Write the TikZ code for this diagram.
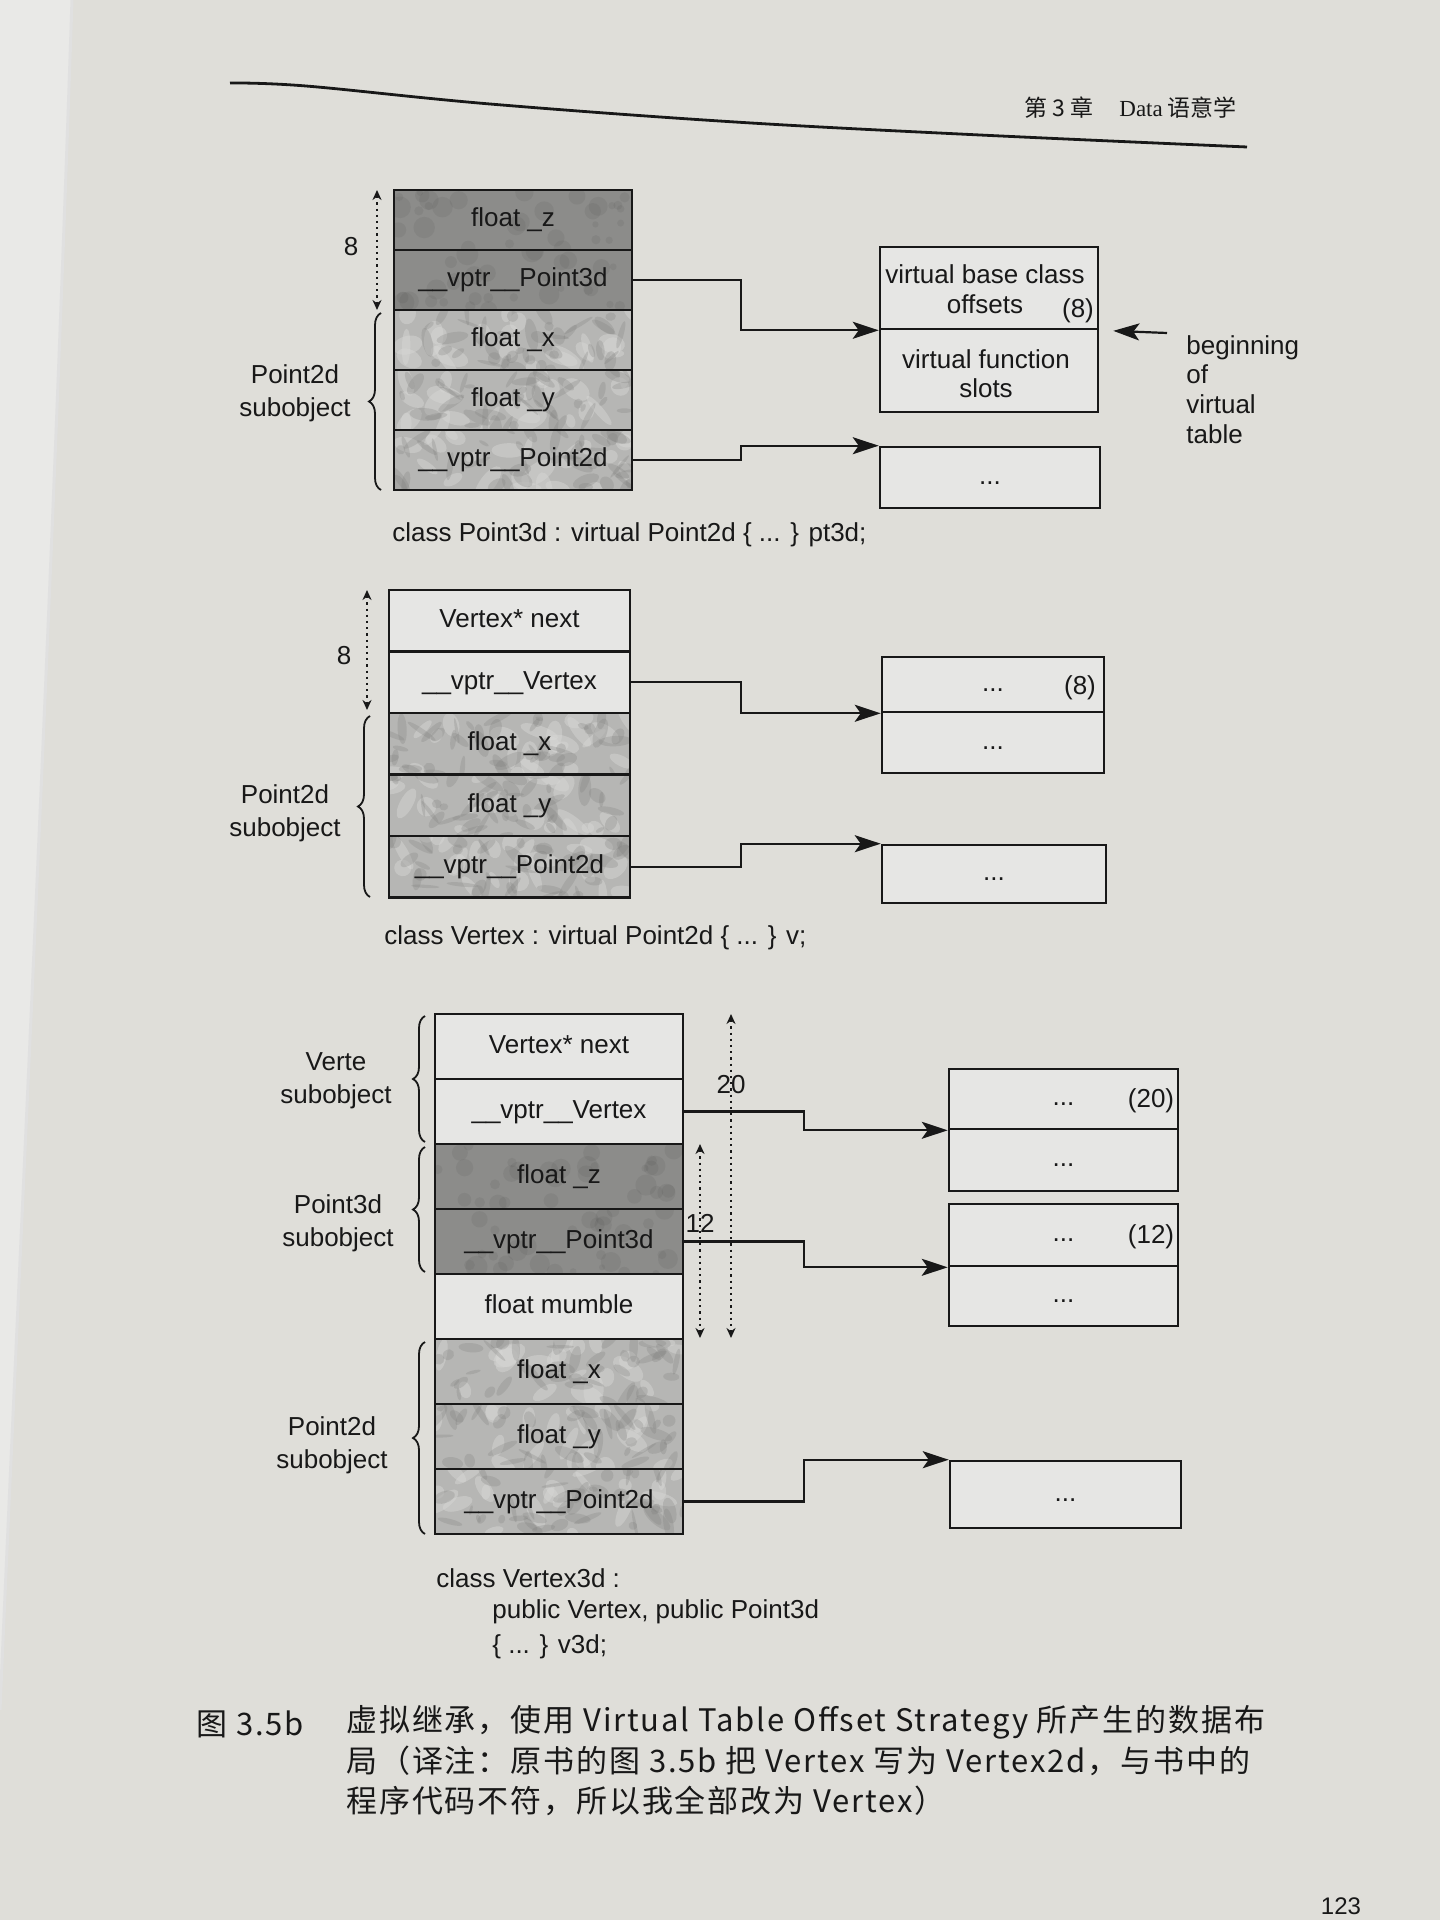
\documentclass[tikz,border=0pt]{standalone}
\usepackage{fontspec}
\setmainfont{Liberation Sans}
\newfontfamily\serifhead{Liberation Serif}
\newfontfamily\cjk{Noto Sans CJK SC}
\newfontfamily\cjkcap[LetterSpace=6]{Noto Sans CJK SC}
\usetikzlibrary{arrows.meta,decorations.pathreplacing,calc}

\definecolor{paper}{HTML}{DFDED9}
\definecolor{leftpage}{HTML}{E9E9E7}
\definecolor{ink}{HTML}{181818}
\definecolor{cellwhite}{HTML}{E6E6E4}
\definecolor{celldark}{HTML}{8C8C8A}
\definecolor{marblebase}{HTML}{B6B6B4}
\definecolor{marbledark}{HTML}{7C7C7A}
\definecolor{marblelight}{HTML}{D8D8D6}

% cell backgrounds: plain, dark and mottled
\newcommand{\texplain}[4]{\fill[cellwhite] (#1,#2) rectangle (#3,#4);}
\newcommand{\texdark}[4]{%
  \begin{scope}
    \clip (#1,#2) rectangle (#3,#4);
    \fill[celldark] (#1,#2) rectangle (#3,#4);
    \foreach \k in {1,...,30}{%
      \pgfmathsetmacro{\mx}{#1+rnd*(#3-#1)}%
      \pgfmathsetmacro{\my}{#2+rnd*(#4-#2)}%
      \pgfmathsetmacro{\ma}{3+rnd*8}%
      \fill[black, opacity=0.05] (\mx,\my) circle [radius=\ma];
    }
  \end{scope}}
\newcommand{\texmarble}[4]{%
  \begin{scope}
    \clip (#1,#2) rectangle (#3,#4);
    \fill[marblebase] (#1,#2) rectangle (#3,#4);
    \foreach \k in {1,...,22}{%
      \pgfmathsetmacro{\mx}{#1+rnd*(#3-#1)}%
      \pgfmathsetmacro{\my}{#2+rnd*(#4-#2)}%
      \pgfmathsetmacro{\ma}{6+rnd*14}%
      \pgfmathsetmacro{\mb}{3+rnd*7}%
      \pgfmathsetmacro{\mr}{rnd*180}%
      \fill[marblelight, opacity=0.45, rotate around={\mr:(\mx,\my)}] (\mx,\my) ellipse [x radius=\ma, y radius=\mb];
    }
    \foreach \k in {1,...,45}{%
      \pgfmathsetmacro{\mx}{#1+rnd*(#3-#1)}%
      \pgfmathsetmacro{\my}{#2+rnd*(#4-#2)}%
      \pgfmathsetmacro{\ma}{4+rnd*13}%
      \pgfmathsetmacro{\mb}{1.5+rnd*5}%
      \pgfmathsetmacro{\mr}{rnd*180}%
      \fill[marbledark, opacity=0.25, rotate around={\mr:(\mx,\my)}] (\mx,\my) ellipse [x radius=\ma, y radius=\mb];
    }
  \end{scope}}

% one memory cell: name, x1, y1, x2, y2, kind, text
\newcommand{\memcell}[7]{%
  \csname tex#6\endcsname{#2}{#3}{#4}{#5}%
  \pgfmathsetmacro{\cellw}{(#4-#2)/2}%
  \pgfmathsetmacro{\cellh}{(#5-#3)/2}%
  \node[cell, minimum width=\cellw pt, minimum height=\cellh pt] (#1) at ({(#2+#4)/2},{(#3+#5)/2}) {#7};%
}

\tikzset{
  lab/.style={text=ink, inner sep=0pt, font=\fontsize{13}{15.5}\selectfont},
  cell/.style={lab, draw=ink, line width=1.3pt, align=center,
               text height=1.75ex, text depth=0.45ex},
  conn/.style={draw=ink, line width=1.1pt, -{Stealth[length=13pt,width=8.5pt,inset=3pt]}},
  dim/.style={draw=ink, dotted, line width=1.1pt,
              {Stealth[length=5pt,width=4.5pt]}-{Stealth[length=5pt,width=4.5pt]}},
  brace/.style={draw=ink, line width=0.9pt, decorate, decoration={brace, amplitude=6pt}},
  sublabel/.style={lab, align=center, font=\fontsize{13}{16.5}\selectfont},
  capfont/.style={text=ink, inner sep=0pt, font=\cjkcap\fontsize{15.5}{18}\selectfont},
}

\begin{document}
\begin{tikzpicture}[x=0.5pt, y=-0.5pt]
\pgfmathsetseed{17}
\useasboundingbox (0,0) rectangle (1440,1920);
\fill[paper] (0,0) rectangle (1440,1920);
% facing page at the gutter
\fill[leftpage] (0,0) -- (72,0) .. controls (52,600) and (22,1200) .. (0,1710) -- cycle;
\draw[black!12, line width=1.5pt] (72,0) .. controls (52,600) and (22,1200) .. (0,1710);

% running head
\draw[ink, line width=1.4pt] plot[smooth, tension=0.6] coordinates {(230,83) (306,86) (490,104) (735,122) (980,135) (1247,147)};
\node[anchor=west, text=ink, inner sep=0pt, font=\cjk\fontsize{11.5}{13}\selectfont] (hd1) at (1024,108) {第 3 章};
\node[anchor=west, text=ink, inner sep=0pt, font=\cjk\fontsize{11.5}{13}\selectfont] (hd2) at (1119,108) {{\serifhead Data} 语意学};

% ---------------- Point3d : virtual Point2d ----------------
\memcell{a1}{394}{190}{632}{250}{dark}{float \_z}
\memcell{a2}{394}{250}{632}{310}{dark}{\_\_vptr\_\_Point3d}
\memcell{a3}{394}{310}{632}{370}{marble}{float \_x}
\memcell{a4}{394}{370}{632}{430}{marble}{float \_y}
\memcell{a5}{394}{430}{632}{490}{marble}{\_\_vptr\_\_Point2d}

\memcell{vbase}{880}{247}{1098}{329}{plain}{}
\memcell{vfunc}{880}{329}{1098}{412}{plain}{}
\node[lab, align=center, font=\fontsize{13}{15}\selectfont] (vbaset) at (985,289) {virtual base class\\offsets};
\node[lab, align=center, font=\fontsize{13}{14.5}\selectfont] (vfunct) at (986,374) {virtual function\\slots};
\node[lab] (v8) at (1078,311) {(8)};
\memcell{l1}{880}{447}{1100}{508}{plain}{...}

\node[lab, align=left, anchor=north west, font=\fontsize{13}{14.8}\selectfont] (beg) at (1186,335) {beginning\\of\\virtual\\table};
\coordinate (begtail) at (1167,333);
\draw[conn, shorten >=7pt] (begtail) -- (vbase.south east);

\coordinate (ja) at (741,0);
\draw[conn] (a2.east) -- (a2.east -| ja) |- (vbase.south west);
\draw[conn] (a5.east) -- (a5.east -| ja) |- (l1.north west);

\coordinate (dA1) at (377,190);
\coordinate (dA2) at (377,310);
\draw[dim] (dA1) -- (dA2);
\node[lab] (n8a) at (351,247) {8};
\coordinate (bA1) at (381,490);
\coordinate (bA2) at (381,313);
\draw[brace] (bA1) -- (bA2);
\node[sublabel] (sA) at (295,393) {Point2d\\subobject};
\node[lab, anchor=west] (capA) at (392,535) {class Point3d : virtual Point2d \{ ... \} pt3d;};

% ---------------- Vertex : virtual Point2d ----------------
\memcell{b1}{389}{590}{630}{651.5}{plain}{Vertex* next}
\memcell{b2}{389}{651.5}{630}{713}{plain}{\_\_vptr\_\_Vertex}
\memcell{b3}{389}{713}{630}{774.5}{marble}{float \_x}
\memcell{b4}{389}{774.5}{630}{836}{marble}{float \_y}
\memcell{b5}{389}{836}{630}{897.5}{marble}{\_\_vptr\_\_Point2d}

\memcell{r1a}{882}{657}{1104}{712}{plain}{...}
\memcell{r1b}{882}{712}{1104}{773}{plain}{...}
\node[lab] (r8) at (1080,688) {(8)};
\memcell{r2}{882}{845}{1106}{903}{plain}{...}

\coordinate (jb) at (741,0);
\draw[conn] (b2.east) -- (b2.east -| jb) |- (r1a.south west);
\draw[conn] (b5.east) -- (b5.east -| jb) |- (r2.north west);

\coordinate (dB1) at (367,590);
\coordinate (dB2) at (367,710);
\draw[dim] (dB1) -- (dB2);
\node[lab] (n8b) at (344,656) {8};
\coordinate (bB1) at (370,897);
\coordinate (bB2) at (370,716);
\draw[brace] (bB1) -- (bB2);
\node[sublabel] (sB) at (285,813) {Point2d\\subobject};
\node[lab, anchor=west] (capB) at (384,938) {class Vertex : virtual Point2d \{ ... \} v;};

% ---------------- Vertex3d : public Vertex, public Point3d ----------------
\memcell{c1}{435}{1014}{683}{1079}{plain}{Vertex* next}
\memcell{c2}{435}{1079}{683}{1144}{plain}{\_\_vptr\_\_Vertex}
\memcell{c3}{435}{1144}{683}{1209}{dark}{float \_z}
\memcell{c4}{435}{1209}{683}{1274}{dark}{\_\_vptr\_\_Point3d}
\memcell{c5}{435}{1274}{683}{1339}{plain}{float mumble}
\memcell{c6}{435}{1339}{683}{1404}{marble}{float \_x}
\memcell{c7}{435}{1404}{683}{1469}{marble}{float \_y}
\memcell{c8}{435}{1469}{683}{1534}{marble}{\_\_vptr\_\_Point2d}

\memcell{s1a}{949}{1069}{1178}{1129}{plain}{...}
\memcell{s1b}{949}{1129}{1178}{1191}{plain}{...}
\node[lab] (s20) at (1151,1101) {(20)};
\memcell{s2a}{949}{1204}{1178}{1266}{plain}{...}
\memcell{s2b}{949}{1266}{1178}{1326}{plain}{...}
\node[lab] (s12) at (1151,1237) {(12)};
\memcell{s3}{950}{1461}{1181}{1528}{plain}{...}

\coordinate (jc) at (804,0);
\draw[conn] (c2.east) -- (c2.east -| jc) |- (s1a.south west);
\draw[conn] (c4.east) -- (c4.east -| jc) |- (s2a.south west);
\draw[conn] (c8.east) -- (c8.east -| jc) |- (s3.north west);

\coordinate (d20a) at (731,1014);
\coordinate (d20b) at (731,1338);
\draw[dim] (d20a) -- (d20b);
\node[lab] (n20) at (731,1085) {20};
\coordinate (d12a) at (700,1144);
\coordinate (d12b) at (700,1338);
\draw[dim] (d12a) -- (d12b);
\node[lab] (n12) at (700,1223) {12};

\coordinate (bC1) at (425,1142);
\coordinate (bC2) at (425,1016);
\draw[brace] (bC1) -- (bC2);
\node[sublabel] (sC) at (336,1081) {Verte\\subobject};
\coordinate (bD1) at (425,1272);
\coordinate (bD2) at (425,1147);
\draw[brace] (bD1) -- (bD2);
\node[sublabel] (sD) at (338,1223) {Point3d\\subobject};
\coordinate (bE1) at (425,1534);
\coordinate (bE2) at (425,1342);
\draw[brace] (bE1) -- (bE2);
\node[sublabel] (sE) at (332,1445) {Point2d\\subobject};

\node[lab, anchor=west] (capC1) at (436,1578) {class Vertex3d :};
\node[lab, anchor=west] (capC2) at (492,1612) {public Vertex, public Point3d};
\node[lab, anchor=west] (capC3) at (492,1647) {\{ ... \} v3d;};

% ---------------- figure caption ----------------
\node[capfont, anchor=west] (fig) at (196,1724) {图 3.5b};
\node[capfont, anchor=west] (cap1) at (346,1722) {虚拟继承，使用 Virtual Table Offset Strategy 所产生的数据布};
\node[capfont, anchor=west] (cap2) at (346,1761) {局（译注：原书的图 3.5b 把 Vertex 写为 Vertex2d，与书中的};
\node[capfont, anchor=west] (cap3) at (346,1801) {程序代码不符，所以我全部改为 Vertex）};

\node[text=ink, inner sep=0pt, font=\fontsize{12}{14}\selectfont] (pg) at (1341,1906) {123};
\end{tikzpicture}
\end{document}
